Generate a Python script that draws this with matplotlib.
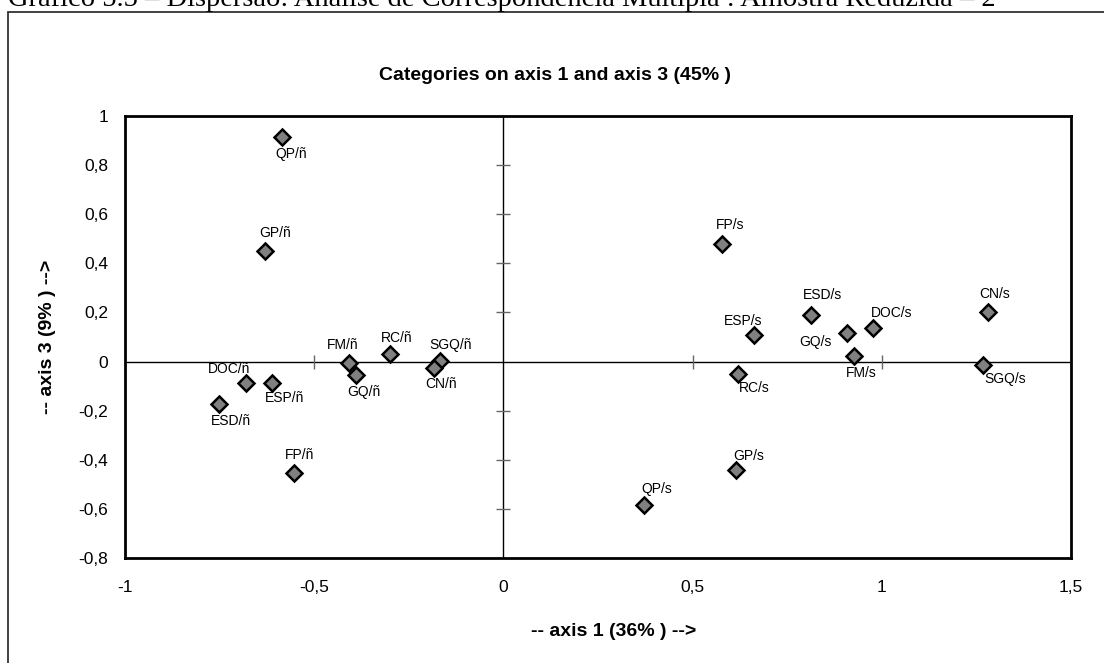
import matplotlib.pyplot as plt
from matplotlib.patches import Rectangle

# --- data (axis 1 vs axis 3) ---
labels = ['QP/ñ', 'GP/ñ', 'FM/ñ', 'GQ/ñ', 'RC/ñ', 'SGQ/ñ', 'CN/ñ',
          'DOC/ñ', 'ESP/ñ', 'ESD/ñ', 'FP/ñ',
          'FP/s', 'ESD/s', 'ESP/s', 'GQ/s', 'DOC/s', 'FM/s', 'RC/s',
          'CN/s', 'SGQ/s', 'GP/s', 'QP/s']
axis1 = [-0.586, -0.630, -0.407, -0.390, -0.301, -0.168, -0.183,
         -0.681, -0.611, -0.752, -0.553,
         0.577, 0.814, 0.662, 0.909, 0.976, 0.926, 0.619,
         1.280, 1.268, 0.614, 0.371]
axis3 = [0.916, 0.450, -0.007, -0.055, 0.030, 0.004, -0.027,
         -0.086, -0.088, -0.173, -0.455,
         0.480, 0.189, 0.107, 0.115, 0.137, 0.024, -0.049,
         0.200, -0.014, -0.440, -0.583]

x_ticks = [-1, -0.5, 0, 0.5, 1, 1.5]
x_tick_labels = ['-1', '-0,5', '0', '0,5', '1', '1,5']
y_ticks = [-0.8, -0.6, -0.4, -0.2, 0, 0.2, 0.4, 0.6, 0.8, 1]
y_tick_labels = ['-0,8', '-0,6', '-0,4', '-0,2', '0', '0,2', '0,4', '0,6', '0,8', '1']

# label offsets in pixels (dx, dy) relative to each marker
offsets = {
    'QP/ñ': (10, -17), 'GP/ñ': (10, 18), 'FM/ñ': (-7, 18), 'GQ/ñ': (8, -17),
    'RC/ñ': (7, 16), 'SGQ/ñ': (11, 16), 'CN/ñ': (7, -16), 'DOC/ñ': (-17, 14),
    'ESP/ñ': (12, -15), 'ESD/ñ': (12, -17), 'FP/ñ': (5, 18),
    'FP/s': (8, 19), 'ESD/s': (11, 20), 'ESP/s': (-11, 14), 'GQ/s': (-32, -9),
    'DOC/s': (19, 15), 'FM/s': (7, -17), 'RC/s': (17, -14), 'CN/s': (7, 18),
    'SGQ/s': (22, -14), 'GP/s': (13, 14), 'QP/s': (13, 16),
}

plt.rcParams['font.family'] = ['Liberation Sans', 'DejaVu Sans']

W, H = 1104, 663
fig = plt.figure(figsize=(W / 100, H / 100), dpi=100)

# outer chart border (runs off the right / bottom edge)
fig.patches.append(Rectangle((8 / W, -0.02), 1.05, 1 - 12 / H + 0.02,
                             transform=fig.transFigure, fill=False,
                             edgecolor='#333333', linewidth=1.3))

# caption, cut off at the top of the picture as in the original
fig.text(8 / W, 1 - 6 / H,
         'Gráfico 5.5 – Dispersão: Análise de Correspondência Múltipla : Amostra Reduzida – 2',
         family='Liberation Serif', fontsize=20.5, ha='left', va='baseline')

ax = fig.add_axes([125 / W, 1 - 558 / H, (1071 - 125) / W, (558 - 116) / H])
ax.set_xlim(-1, 1.5)
ax.set_ylim(-0.8, 1)

# cross axes through the origin
ax.axhline(0, color='black', linewidth=1.0, zorder=1)
ax.axvline(0, color='black', linewidth=1.0, zorder=1)
ax.plot([0] * 7, [-0.6, -0.4, -0.2, 0.2, 0.4, 0.6, 0.8], linestyle='none',
        marker='_', markersize=10, markeredgewidth=1.0, color='#666666', zorder=1)
ax.plot([-0.5, 0.5, 1], [0, 0, 0], linestyle='none',
        marker='|', markersize=10, markeredgewidth=1.0, color='#666666', zorder=1)

ax.plot(axis1, axis3, linestyle='none', marker='D', markersize=8,
        markerfacecolor='#808080', markeredgecolor='black',
        markeredgewidth=1.8, zorder=3)

for name, x, y in zip(labels, axis1, axis3):
    dx, dy = offsets[name]
    ax.annotate(name, (x, y), xytext=(dx, dy), textcoords='offset pixels',
                ha='center', va='center', fontsize=10, zorder=4)

ax.set_xticks(x_ticks)
ax.set_xticklabels(x_tick_labels)
ax.set_yticks(y_ticks)
ax.set_yticklabels(y_tick_labels)
ax.tick_params(axis='x', length=0, pad=16, labelsize=12.5)
ax.tick_params(axis='y', length=0, pad=12, labelsize=12.5)
for s in ax.spines.values():
    s.set_linewidth(2)
    s.set_color('black')

fig.text(555 / W, 1 - 75 / H, 'Categories on axis 1 and axis 3 (45% )',
         ha='center', va='center', fontsize=14, fontweight='bold')
fig.text(614 / W, 1 - 632 / H, '-- axis 1 (36% ) -->',
         ha='center', va='center', fontsize=14, fontweight='bold')
fig.text(48 / W, 1 - 337 / H, '-- axis 3 (9% ) -->', rotation=90,
         ha='center', va='center', fontsize=14, fontweight='bold')

fig.savefig('out.png', dpi=100)
